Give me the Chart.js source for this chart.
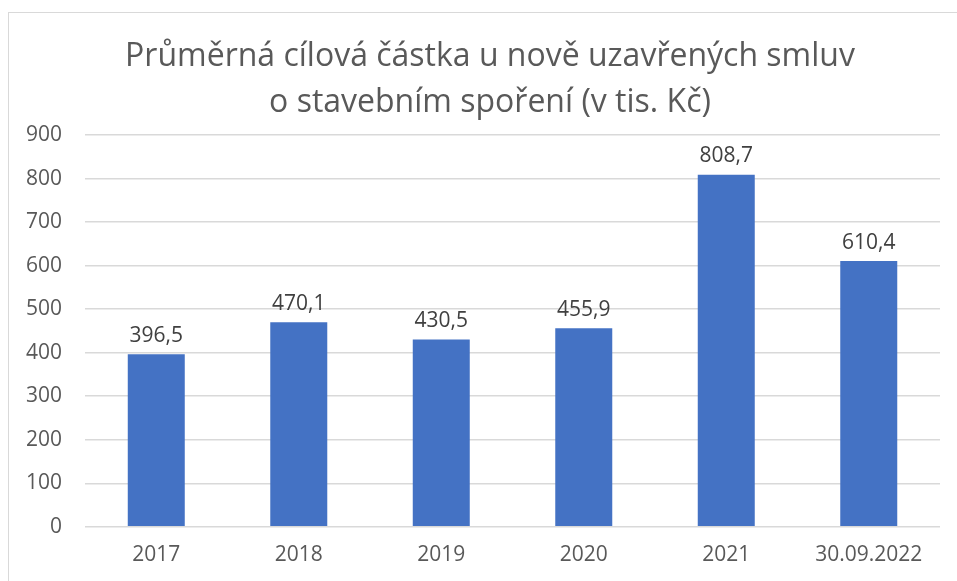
<!DOCTYPE html>
<html><head><meta charset="utf-8">
<script src="https://cdn.jsdelivr.net/npm/chart.js@4"></script>
<style>
html,body{margin:0;padding:0;background:#fff;overflow:hidden;width:957px;height:581px;}
#frame{position:absolute;left:8px;top:12px;width:1000px;height:700px;border:1px solid #d9d9d9;box-sizing:border-box;}
#wrap{position:absolute;left:0;top:0;width:980px;height:581px;}
</style></head>
<body>
<div id="frame"></div>
<div id="wrap"><canvas id="c"></canvas></div>
<script>
const categories = ["2017","2018","2019","2020","2021","30.09.2022"];
const values = [396.5, 470.1, 430.5, 455.9, 808.7, 610.4];
const yTicks = [0,100,200,300,400,500,600,700,800,900];
const titleLines = ["Průměrná cílová částka u nově uzavřených smluv","o stavebním spoření (v tis. Kč)"];

const FONT = "'Open Sans', sans-serif";
const labelPlugin = {
  id:'valueLabels',
  afterDatasetsDraw(chart){
    const ctx = chart.ctx;
    const meta = chart.getDatasetMeta(0);
    ctx.save();
    ctx.font = "21px " + FONT;
    ctx.fillStyle = "#404040";
    ctx.textAlign = "center";
    ctx.textBaseline = "bottom";
    meta.data.forEach((bar,i)=>{
      const txt = values[i].toFixed(1).replace('.',',');
      ctx.fillText(txt, bar.x, bar.y - 8);
    });
    ctx.restore();
  }
};
const titlePlugin = {
  id:'centerTitle',
  afterDraw(chart){
    const ctx = chart.ctx;
    ctx.save();
    ctx.font = "32px " + FONT;
    ctx.fillStyle = "#595959";
    ctx.textAlign = "center";
    ctx.textBaseline = "middle";
    ctx.fillText(titleLines[0], 490, 57);
    ctx.fillText(titleLines[1], 490, 103);
    ctx.restore();
  }
};

new Chart(document.getElementById('c'), {
  type:'bar',
  data:{labels:categories, datasets:[{data:values, backgroundColor:'#4472C4', barPercentage:0.4, categoryPercentage:1}]},
  options:{
    responsive:true, maintainAspectRatio:false, animation:false,
    layout:{padding:{left:3,right:40,top:135,bottom:5}},
    plugins:{
      legend:{display:false}, tooltip:{enabled:false}, title:{display:false}
    },
    scales:{
      x:{grid:{display:false}, border:{display:false}, ticks:{color:'#595959', font:{family:FONT,size:21}, padding:8}},
      y:{min:0,max:900, afterBuildTicks(ax){ax.ticks = yTicks.map(v=>({value:v}));},
         grid:{color:'#d9d9d9', lineWidth:1.5, drawTicks:false}, border:{display:false},
         ticks:{color:'#595959', font:{family:FONT,size:21}, padding:23}}
    }
  },
  plugins:[labelPlugin, titlePlugin]
});
</script>
</body></html>
